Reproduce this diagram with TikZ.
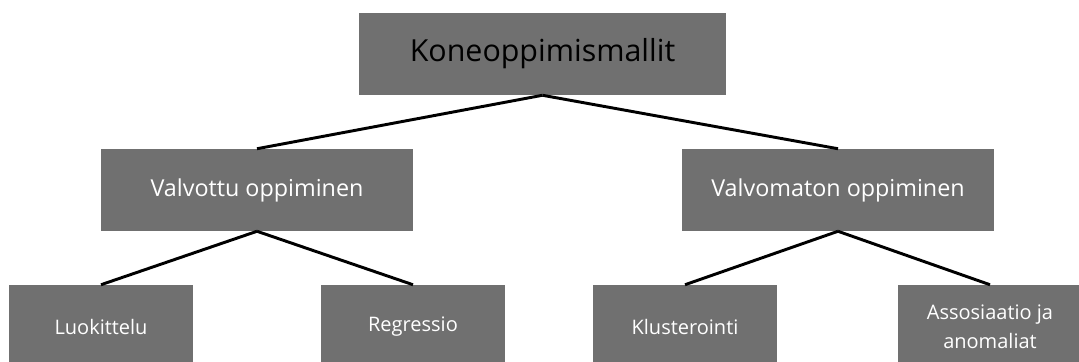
\documentclass[tikz,border=0pt]{standalone}
\usepackage{fontspec}
\setmainfont{Open Sans}
\usepackage{tikz}
\usetikzlibrary{positioning}
\definecolor{boxG}{HTML}{707070}

\begin{document}
\begin{tikzpicture}[x=0.75pt,y=-0.75pt,
  box/.style={fill=boxG,inner sep=0pt,align=center,text=white},
  topbox/.style={box,text=black,minimum width=275pt,minimum height=61.5pt,font=\fontsize{22.8}{27}\selectfont},
  midbox/.style={box,minimum width=234pt,minimum height=61.5pt,font=\fontsize{17.5}{21}\selectfont},
  leafbox/.style={box,minimum width=138pt,minimum height=63pt,font=\fontsize{15}{22}\selectfont},
  link/.style={line width=2.2pt}]
  \useasboundingbox (0,0) rectangle (1079,361);
  \clip (0,0) rectangle (1079,361);
  \node[topbox] (root) at (542.5,54) {Koneoppimismallit};
  \node[midbox] (valv) at (257,190) {Valvottu oppiminen};
  \node[midbox] (valvo) at (838,190) {Valvomaton oppiminen};
  \node[leafbox] (luok) at (101,327) {Luokittelu};
  \node[leafbox] (regr) at (413,327) {Regressio};
  \node[leafbox] (klus) at (685,327) {Klusterointi};
  \node[leafbox] (asso) at (990,327) {Assosiaatio ja\\anomaliat};
  % connectors
  \foreach \a/\b in {root/valv,root/valvo,valv/luok,valv/regr,valvo/klus,valvo/asso}{
    \draw[link] (\a.south) -- (\b.north);
  }
\end{tikzpicture}
\end{document}
